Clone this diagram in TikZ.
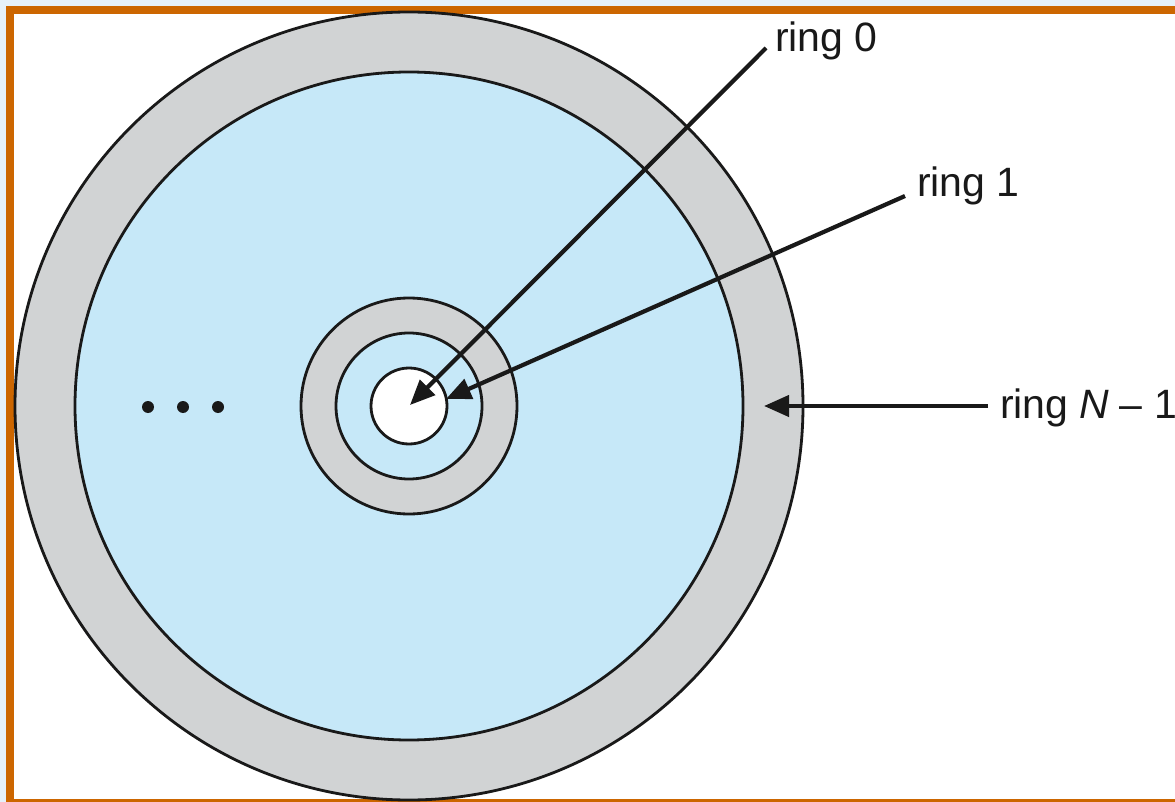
\documentclass[tikz,border=0pt]{standalone}
\usepackage{fontspec}
\setmainfont{Liberation Sans}
\usetikzlibrary{arrows.meta}
\definecolor{pageblue}{HTML}{E6F1FA}
\definecolor{frameorange}{HTML}{CC6600}
\definecolor{ringgray}{HTML}{D1D3D4}
\definecolor{ringblue}{HTML}{C6E8F8}
\tikzset{
  ringline/.style={draw=black!90, line width=2.8pt},
  pointer/.style={line width=4.2pt, draw=black!90, -{Triangle[length=25pt,width=21pt]}},
  lbl/.style={anchor=west, inner sep=0pt, font=\fontsize{41}{43}\selectfont, text=black!90},
  dot/.style={circle, fill=black!90, inner sep=0pt, minimum size=12pt}
}
\begin{document}
\begin{tikzpicture}[x=1pt,y=-1pt]
\useasboundingbox (0,0) rectangle (1175,802);
\clip (0,0) rectangle (1175,802);
\fill[pageblue] (0,0) rectangle (1175,802);
\fill[frameorange] (6,6) rectangle (1180,810);
\fill[white] (14,14) rectangle (1180,799);
% rings
\coordinate (c) at (409,406);
\fill[ringgray, ringline] (c) circle[radius=394];
\fill[ringblue, ringline] (c) circle[radius=334];
\fill[ringgray, ringline] (c) circle[radius=108];
\fill[ringblue, ringline] (c) circle[radius=73];
\fill[white, ringline] (c) circle[radius=38];
% dots
\node[dot] (d1) at (148,407) {};
\node[dot] (d2) at (183,407) {};
\node[dot] (d3) at (218,407) {};
% labels
\node[lbl] (r0) at (775,41) {ring 0};
\node[lbl] (r1) at (917,186) {ring 1};
\node[lbl] (rn) at (1000,408) {ring \textit{N}\kern10pt–\kern12pt1};
% arrow endpoints
\coordinate (s0) at (766,48);
\coordinate (t0) at (410,405);
\coordinate (s1) at (905,196);
\coordinate (t1) at (446,399);
\coordinate (sn) at (988,406);
\coordinate (tn) at (764,406);
\draw[pointer] (s0) -- (t0);
\draw[pointer] (s1) -- (t1);
\draw[pointer] (sn) -- (tn);
\end{tikzpicture}
\end{document}
